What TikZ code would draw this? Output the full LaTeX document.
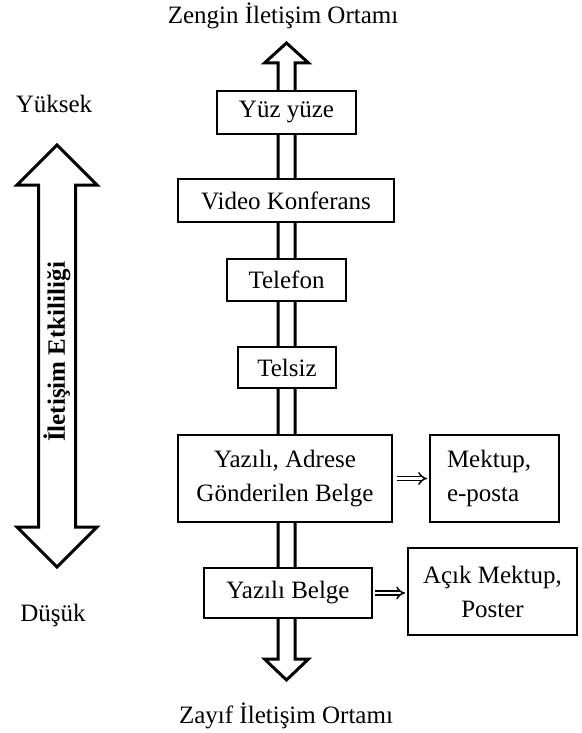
\documentclass[tikz,border=0pt]{standalone}
\usepackage{fontspec}
\setmainfont{Liberation Serif}
\usetikzlibrary{arrows.meta,calc}
\tikzset{
  box/.style={draw, line width=1.7pt, fill=white, inner sep=0pt, outer sep=0pt,
    font=\fontsize{25}{34}\selectfont, align=center},
  bigarrow/.style={draw, line width=3pt, fill=white, line join=miter},
  sidearrow/.style={double, double distance=2.8pt, line width=1.5pt, -{Implies}},
  lbl/.style={font=\fontsize{25}{30}\selectfont, inner sep=0pt}
}
\begin{document}
\begin{tikzpicture}[x=1pt,y=-1pt]
\useasboundingbox (0,0) rectangle (581,733);
% main double arrow
\coordinate (mt) at (286.5,43);
\coordinate (mb) at (286.5,680);
\draw[bigarrow] (mt) -- ++(22,20) -- ++(-13.5,0) -- ($(mb)+(8.5,-21)$) -- ++(13.5,0)
  -- (mb) -- ++(-22,-21) -- ++(13.5,0) -- ($(mt)+(-8.5,20)$) -- ++(-13.5,0) -- cycle;
% left double arrow
\coordinate (lt) at (57,145);
\coordinate (lb) at (57,567);
\draw[bigarrow] (lt) -- ++(40,40) -- ++(-21.5,0) -- ($(lb)+(18.5,-40)$) -- ++(21.5,0)
  -- (lb) -- ++(-40,-40) -- ++(21.5,0) -- ($(lt)+(-18.5,40)$) -- ++(-21.5,0) -- cycle;
\node[lbl, rotate=90, font=\fontsize{25}{30}\selectfont\bfseries] (etk) at (57,352) {İletişim Etkililiği};
% texts
\node[lbl] (zengin) at (283,16) {Zengin İletişim Ortamı};
\node[lbl] (zayif) at (286,716) {Zayıf İletişim Ortamı};
\node[lbl] (yuksek) at (54,104) {Yüksek};
\node[lbl] (dusuk) at (53,615) {Düşük};
% boxes
\node[box, minimum width=139pt, minimum height=43pt] (yuz) at (286.5,112.5) {Yüz yüze};
\node[box, minimum width=216pt, minimum height=43pt] (video) at (286,200.5) {Video Konferans};
\node[box, minimum width=119pt, minimum height=42pt] (tel) at (286.5,280) {Telefon};
\node[box, minimum width=98pt, minimum height=41pt] (telsiz) at (287,367.5) {Telsiz};
\node[box, minimum width=214pt, minimum height=87pt] (adr) at (285,478.5) {Yazılı, Adrese\\Gönderilen Belge};
\node[box, minimum width=129pt, minimum height=87pt, text width=95pt, align=left] (mek) at (494.5,478.5) {Mektup,\\e-posta};
\node[box, minimum width=168pt, minimum height=50pt] (yb) at (288,593) {Yazılı Belge};
\node[box, minimum width=169pt, minimum height=87pt] (acik) at (492.5,591.5) {Açık Mektup,\\Poster};
% side arrows
\draw[sidearrow, shorten <=5pt, shorten >=3pt] (adr.east) -- (mek.west);
\draw[sidearrow, shorten <=3pt, shorten >=3pt] (yb.east) -- (yb.east -| acik.west);
\end{tikzpicture}
\end{document}
